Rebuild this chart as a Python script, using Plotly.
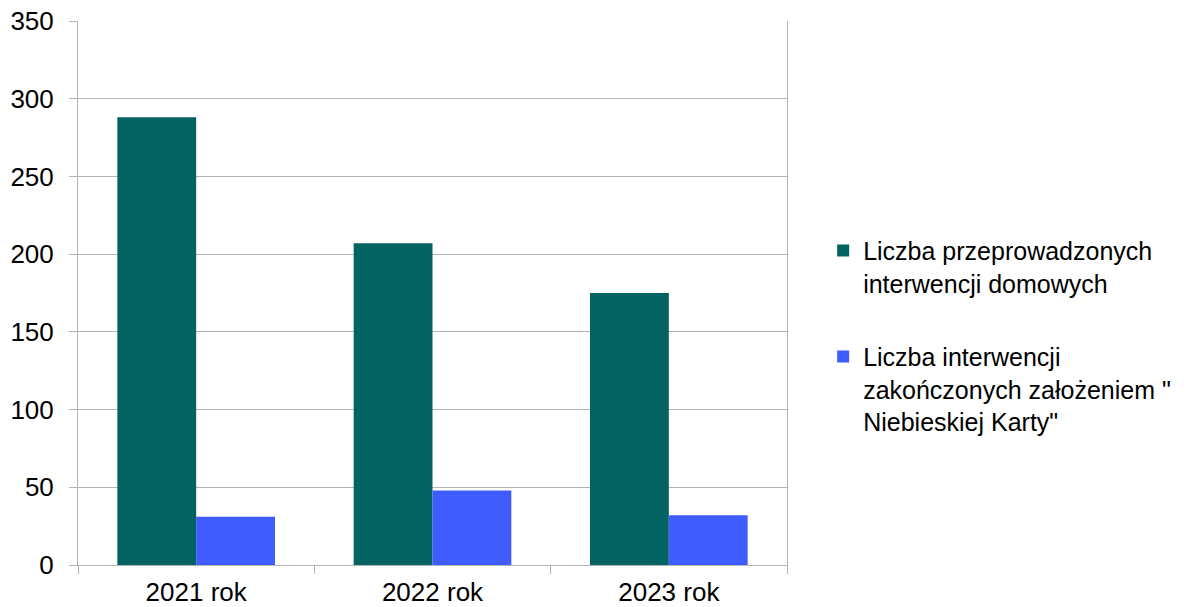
import plotly.graph_objects as go

categories = ["2021 rok", "2022 rok", "2023 rok"]
series1_name = "Liczba przeprowadzonych<br>interwencji domowych"
series1_values = [288, 207, 175]
series2_name = "Liczba interwencji<br>zakończonych założeniem \"<br>Niebieskiej Karty\""
series2_values = [31, 48, 32]
y_ticks = [0, 50, 100, 150, 200, 250, 300, 350]

FONT = "Liberation Sans, Arial, sans-serif"
GRID = "#b3b3b3"

fig = go.Figure()
fig.add_trace(go.Bar(x=categories, y=series1_values, name=series1_name,
                     marker=dict(color="#036262", line=dict(width=0)), legendgroup="a"))
fig.add_trace(go.Bar(x=categories, y=series2_values, name=series2_name,
                     marker=dict(color="#3F5CFF", line=dict(width=0)), legendgroup="b"))

fig.update_layout(
    width=1190, height=607,
    margin=dict(l=78, r=403, t=21, b=42, autoexpand=False),
    paper_bgcolor="white", plot_bgcolor="white",
    barmode="group", bargap=0.333, bargroupgap=0,
    font=dict(family=FONT, size=26, color="black"),
    legend=dict(x=1.051, y=0.62, xanchor="left", yanchor="top",
                font=dict(family=FONT, size=25, color="black"),
                valign="top", tracegroupgap=38, itemwidth=30,
                bgcolor="rgba(0,0,0,0)"),
    xaxis=dict(showline=True, linecolor=GRID, linewidth=1, ticks="outside",
               tickson="boundaries", ticklen=8, tickcolor=GRID, showgrid=False,
               automargin=False, ticklabelstandoff=4, ticklabeloverflow="allow",
               tickfont=dict(size=26)),
    yaxis=dict(range=[0, 350], tickvals=y_ticks, showline=True, mirror=True,
               linecolor=GRID, linewidth=1, ticks="outside", ticklen=8, tickcolor=GRID,
               showgrid=True, gridcolor=GRID, gridwidth=1, zeroline=False,
               automargin=False, ticklabelstandoff=10, ticklabeloverflow="allow",
               tickfont=dict(size=26)),
)

fig.write_html("out.html", config={"displayModeBar": False},
               post_script="document.body.style.margin='0';document.body.style.overflow='hidden';")
